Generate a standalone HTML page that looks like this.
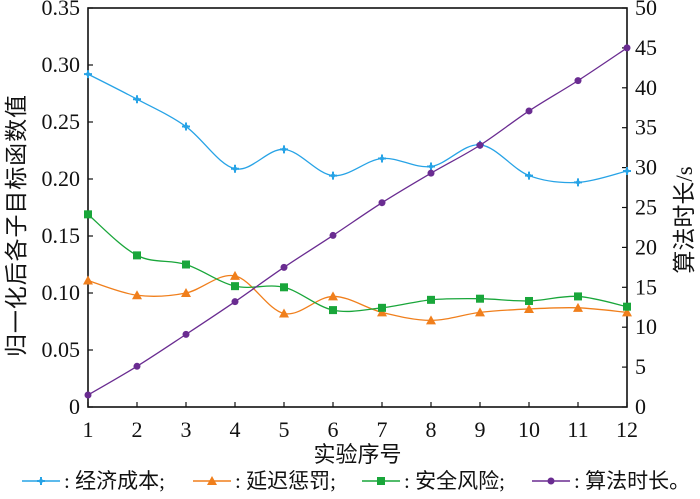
<!DOCTYPE html>
<html><head><meta charset="utf-8"><style>
body{margin:0;background:#fff}
svg text{font-family:"Liberation Serif","Noto Sans CJK SC",serif;fill:#111}
</style></head><body>
<svg id="c" width="700" height="494" viewBox="0 0 700 494"></svg>
<script>
const categories=[1,2,3,4,5,6,7,8,9,10,11,12];
const costVals=[0.292,0.270,0.246,0.209,0.226,0.203,0.218,0.211,0.230,0.203,0.197,0.207];
const delayVals=[0.111,0.098,0.100,0.115,0.082,0.097,0.083,0.076,0.083,0.086,0.087,0.083];
const safetyVals=[0.169,0.133,0.125,0.106,0.105,0.085,0.087,0.094,0.095,0.093,0.097,0.088];
const timeVals=[1.5,5.1,9.1,13.2,17.5,21.5,25.6,29.3,32.8,37.1,40.9,45.0];
const leftTicks=[0,0.05,0.10,0.15,0.20,0.25,0.30,0.35];
const leftLabels=["0","0.05","0.10","0.15","0.20","0.25","0.30","0.35"];
const rightTicks=[0,5,10,15,20,25,30,35,40,45,50];

const NS="http://www.w3.org/2000/svg";
const svg=document.getElementById('c');
const L=88,R=627,T=8,B=407;
const x=v=>L+(v-1)/(11)*(R-L);
const yl=v=>B-v/0.35*(B-T);
const yr=v=>B-v/50*(B-T);
function el(tag,attrs,parent){const e=document.createElementNS(NS,tag);for(const k in attrs)e.setAttribute(k,attrs[k]);(parent||svg).appendChild(e);return e;}
function txt(s,attrs){const e=el('text',attrs);e.textContent=s;return e;}

const frame=el('rect',{x:L,y:T,width:R-L,height:B-T,fill:'none',stroke:'#111','stroke-width':1.6});



leftTicks.forEach((v,i)=>{
  el('line',{x1:L,x2:L+5,y1:yl(v),y2:yl(v),stroke:'#111','stroke-width':1.2});
  const t=txt(leftLabels[i],{x:L-8,y:yl(v)+7,'text-anchor':'end','font-size':22});
  
  
});
rightTicks.forEach(v=>{
  el('line',{x1:R-5,x2:R,y1:yr(v),y2:yr(v),stroke:'#111','stroke-width':1.2});
  const t=txt(String(v),{x:R+8,y:yr(v)+7,'font-size':22});
  
  
});
categories.forEach(c=>{
  el('line',{x1:x(c),x2:x(c),y1:B,y2:B-5,stroke:'#111','stroke-width':1.2});
  const t=txt(String(c),{x:x(c),y:B+30,'text-anchor':'middle','font-size':22});
  
  
});
let t1=txt('实验序号',{x:(L+R)/2,y:462,'text-anchor':'middle','font-size':22});


let t2=txt('归一化后各子目标函数值',{transform:'translate(24,226) rotate(-90)','text-anchor':'middle','font-size':23,textLength:262,lengthAdjust:'spacing'});


let t3=txt('算法时长/s',{transform:'translate(692,220) rotate(-90)','text-anchor':'middle','font-size':23});



function smooth(pts){
  let d=`M${pts[0][0]},${pts[0][1]}`;
  for(let i=0;i<pts.length-1;i++){
    const p0=pts[i-1]||pts[i],p1=pts[i],p2=pts[i+1],p3=pts[i+2]||p2;
    const c1=[p1[0]+(p2[0]-p0[0])/6,p1[1]+(p2[1]-p0[1])/6];
    const c2=[p2[0]-(p3[0]-p1[0])/6,p2[1]-(p3[1]-p1[1])/6];
    d+=` C${c1[0]},${c1[1]} ${c2[0]},${c2[1]} ${p2[0]},${p2[1]}`;
  }
  return d;
}
function marker(g,type,px,py,color){
  if(type==='star'){
    el('path',{d:`M${px-4},${py}L${px+4},${py}M${px},${py-4}L${px},${py+4}`,stroke:color,'stroke-width':2},g);
    el('circle',{cx:px,cy:py,r:2,fill:color},g);
  }else if(type==='tri'){
    el('polygon',{points:`${px},${py-5} ${px+5},${py+4} ${px-5},${py+4}`,fill:color},g);
  }else if(type==='sq'){
    el('rect',{x:px-4,y:py-4,width:8,height:8,fill:color},g);
  }else{
    el('circle',{cx:px,cy:py,r:3.5,fill:color},g);
  }
}
const series=[
  {name:'cost',vals:costVals,color:'#27a3e6',type:'star',ax:yl},
  {name:'delay',vals:delayVals,color:'#f07f1c',type:'tri',ax:yl},
  {name:'safety',vals:safetyVals,color:'#19a63a',type:'sq',ax:yl},
  {name:'time',vals:timeVals,color:'#6a2c91',type:'dot',ax:yr}
];
series.forEach(s=>{
  const g=el('g',{});
  
  
  const pts=s.vals.map((v,i)=>[x(categories[i]),s.ax(v)]);
  el('path',{d:smooth(pts),fill:'none',stroke:s.color,'stroke-width':1.3},g);
  pts.forEach(p=>marker(g,s.type,p[0],p[1],s.color));
});

const legend=[['经济成本;',0],['延迟惩罚;',1],['安全风险;',2],['算法时长。',3]];
const lx=[22,193,362,532];
legend.forEach((l,i)=>{
  const s=series[l[1]];
  const g=el('g',{});
  
  
  el('line',{x1:lx[i],x2:lx[i]+38,y1:481,y2:481,stroke:s.color,'stroke-width':1.5},g);
  marker(g,s.type,lx[i]+19,481,s.color);
  const t=el('text',{x:lx[i]+42,y:488,'font-size':21},g);
  t.textContent=': '+l[0];
});
</script>
</body></html>
